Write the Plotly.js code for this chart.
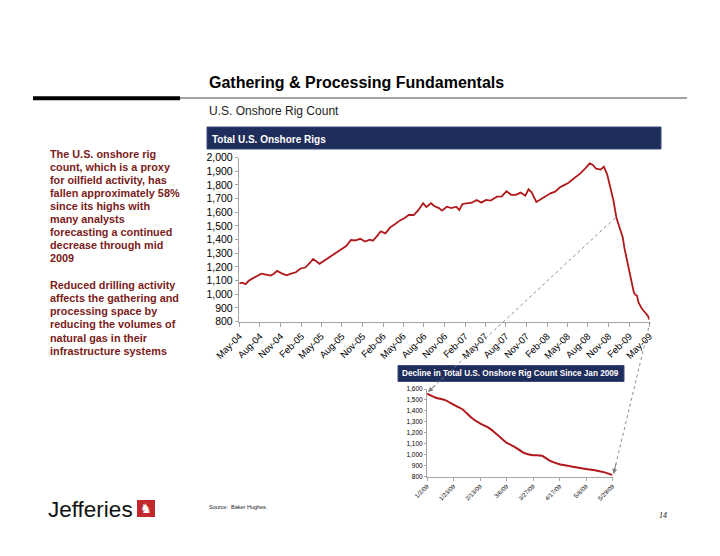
<!DOCTYPE html>
<html>
<head>
<meta charset="utf-8">
<script src="https://cdn.plot.ly/plotly-3.0.1.min.js"></script>
<style>html,body{margin:0;padding:0;background:#fff}#chart{width:720px;height:556px}</style>
</head>
<body>
<div id="chart"></div>
<script>
// ---- Data ----
const mainDates = [
"2004-05-28","2004-06-11","2004-06-25","2004-07-09","2004-07-23","2004-08-13","2004-09-03","2004-09-24",
"2004-10-15","2004-10-29","2004-11-12","2004-12-03","2004-12-24","2005-01-14","2005-02-04","2005-02-25",
"2005-03-18","2005-04-08","2005-04-22","2005-05-20","2005-06-10","2005-07-08","2005-07-29","2005-08-12",
"2005-09-02","2005-09-16","2005-10-07","2005-10-28","2005-11-18","2005-12-09","2005-12-30","2006-01-13",
"2006-02-03","2006-02-17","2006-03-10","2006-03-31","2006-04-21","2006-05-12","2006-06-02","2006-06-23",
"2006-07-14","2006-08-04","2006-08-25","2006-09-08","2006-09-29","2006-10-13","2006-11-03","2006-11-17",
"2006-12-08","2006-12-29","2007-01-19","2007-02-02","2007-02-16","2007-03-09","2007-03-30","2007-04-20",
"2007-05-11","2007-06-01","2007-06-22","2007-07-06","2007-07-20","2007-08-10","2007-08-31","2007-09-21",
"2007-10-12","2007-11-02","2007-11-23","2007-12-07","2007-12-21","2008-01-11","2008-02-01","2008-02-22",
"2008-03-14","2008-04-04","2008-04-25","2008-05-16","2008-05-30","2008-06-13","2008-07-04","2008-07-25",
"2008-08-15","2008-08-29","2008-09-05","2008-09-19","2008-10-03","2008-10-24","2008-11-07","2008-11-21",
"2008-12-05","2008-12-19"];
const mainRigs = [
1079,1084,1073,1098,1112,1128,1150,1143,
1136,1150,1170,1152,1138,1150,1160,1188,
1195,1230,1258,1222,1245,1278,1300,1315,
1335,1352,1396,1394,1405,1385,1398,1391,
1430,1460,1445,1489,1512,1538,1556,1581,
1578,1616,1665,1638,1665,1645,1630,1611,
1640,1630,1640,1616,1660,1665,1669,1689,
1670,1690,1685,1700,1713,1715,1753,1727,
1727,1743,1720,1767,1745,1674,1695,1713,
1738,1750,1782,1800,1811,1830,1855,1884,
1918,1940,1957,1945,1918,1912,1933,1879,
1786,1689];

const insetDates = ["2009-01-02","2009-01-09","2009-01-16","2009-01-23","2009-01-30","2009-02-06","2009-02-13",
"2009-02-20","2009-02-27","2009-03-06","2009-03-13","2009-03-20","2009-03-27","2009-04-03","2009-04-10",
"2009-04-17","2009-04-24","2009-05-01","2009-05-08","2009-05-15","2009-05-22","2009-05-29"];
const insetRigs = [1557,1520,1500,1457,1415,1340,1285,1245,1180,1110,1067,1015,995,990,940,912,897,882,868,858,840,813];

const mainTickDates = ["2004-05-28","2004-08-28","2004-11-28","2005-02-28","2005-05-28","2005-08-28","2005-11-28",
"2006-02-28","2006-05-28","2006-08-28","2006-11-28","2007-02-28","2007-05-28","2007-08-28","2007-11-28",
"2008-02-28","2008-05-28","2008-08-28","2008-11-28","2009-02-28","2009-05-28"];
const mainTickLabels = ["May-04","Aug-04","Nov-04","Feb-05","May-05","Aug-05","Nov-05","Feb-06","May-06","Aug-06",
"Nov-06","Feb-07","May-07","Aug-07","Nov-07","Feb-08","May-08","Aug-08","Nov-08","Feb-09","May-09"];

const leftPara1 = ["The U.S. onshore rig","count, which is a proxy","for oilfield activity, has","fallen approximately 58%",
"since its highs with","many analysts","forecasting a continued","decrease through mid","2009"];
const leftPara2 = ["Reduced drilling activity","affects the gathering and","processing space by",
"reducing the volumes of","natural gas in their","infrastructure systems"];

// ---- Layout helpers ----
const W = 720, H = 556;
const px = x => x / W;
const py = y => 1 - y / H;
const FONT = "Liberation Sans, Arial, Helvetica, sans-serif";
const LINE = "#B0181B";
const AX = "#A6A6A6";

const traces = [
  {x: mainDates.concat(insetDates), y: mainRigs.concat(insetRigs), type: "scatter", mode: "lines",
   line: {color: LINE, width: 1.8}, xaxis: "x", yaxis: "y", hoverinfo: "skip"},
  {x: insetDates, y: insetRigs, type: "scatter", mode: "lines", line: {color: LINE, width: 2, shape: "spline", smoothing: 0.6},
   xaxis: "x2", yaxis: "y2", hoverinfo: "skip"}
];

const ann = [];
function txt(x, y, text, size, opts) {
  ann.push(Object.assign({xref: "paper", yref: "paper", x: px(x), y: py(y), text: text, showarrow: false,
    xanchor: "left", yanchor: "middle", font: {family: FONT, size: size, color: "#000"}}, opts || {}));
}
txt(207, 83, "<b>Gathering &amp; Processing Fundamentals</b>", 16);
txt(207, 111, "U.S. Onshore Rig Count", 12, {font: {family: FONT, size: 12, color: "#222"}});
txt(210, 139, "<b>Total U.S. Onshore Rigs</b>", 10, {font: {family: FONT, size: 10, color: "#fff"}});
txt(400, 373.5, "<b>Decline in Total U.S. Onshore Rig Count Since Jan 2009</b>", 8.2, {font: {family: FONT, size: 8.2, color: "#fff"}});
leftPara1.forEach((s, i) => txt(47.5, 154 + i * 13.05, "<b>" + s + "</b>", 10.85, {font: {family: FONT, size: 10.85, color: "#7A1C20"}}));
leftPara2.forEach((s, i) => txt(47.5, 285 + i * 13.15, "<b>" + s + "</b>", 10.85, {font: {family: FONT, size: 10.85, color: "#7A1C20"}}));
txt(46, 509, "Jefferies", 22.5, {font: {family: FONT, size: 22.5, color: "#111"}});
txt(146, 508.5, "♞", 13, {xanchor: "center", font: {family: "DejaVu Sans", size: 13, color: "#fff"}});
txt(207, 507, "Source:  Baker Hughes.", 5.5, {font: {family: FONT, size: 5.5, color: "#222"}});
txt(657, 515, "<i>14</i>", 8, {font: {family: "Liberation Serif, Times New Roman, serif", size: 8, color: "#222"}});

// arrowheads of the callouts
ann.push({xref: "paper", yref: "paper", x: px(428), y: py(392), ax: 9, ay: -8, text: "", showarrow: true,
  arrowhead: 2, arrowsize: 1, arrowwidth: 1, arrowcolor: "#7F7F7F"});
ann.push({xref: "paper", yref: "paper", x: px(613.5), y: py(474), ax: 3, ay: -12, text: "", showarrow: true,
  arrowhead: 2, arrowsize: 1, arrowwidth: 1, arrowcolor: "#7F7F7F"});

const shapes = [
  {type: "line", xref: "paper", yref: "paper", x0: px(33), x1: px(180), y0: py(98.3), y1: py(98.3), line: {color: "#000", width: 4}},
  {type: "line", xref: "paper", yref: "paper", x0: px(180), x1: px(687), y0: py(98), y1: py(98), line: {color: "#444", width: 1}},
  {type: "rect", xref: "paper", yref: "paper", x0: px(207), x1: px(661), y0: py(149), y1: py(127), fillcolor: "#1F2D5C", line: {color: "#3A4A7A", width: 1}},
  {type: "rect", xref: "paper", yref: "paper", x0: px(398), x1: px(624), y0: py(381.5), y1: py(365.5), fillcolor: "#1F2D5C", line: {color: "#3A4A7A", width: 1}},
  {type: "line", xref: "paper", yref: "paper", x0: px(615), y0: py(218), x1: px(430), y1: py(390), line: {color: "#8C8C8C", width: 1, dash: "dot"}},
  {type: "line", xref: "paper", yref: "paper", x0: px(650), y0: py(322), x1: px(614), y1: py(472), line: {color: "#8C8C8C", width: 1, dash: "dot"}},
  {type: "rect", xref: "paper", yref: "paper", x0: px(137), x1: px(155), y0: py(517), y1: py(500), fillcolor: "#C0282D", line: {width: 0}}
];

const axBase = {showgrid: false, zeroline: false, showline: true, linecolor: AX, linewidth: 1.5,
  ticks: "outside", tickcolor: AX, tickwidth: 1, fixedrange: true};

const layout = {
  width: W, height: H, margin: {l: 0, r: 0, t: 0, b: 0},
  paper_bgcolor: "#fff", plot_bgcolor: "rgba(0,0,0,0)", showlegend: false,
  font: {family: FONT, color: "#000"},
  xaxis: Object.assign({}, axBase, {domain: [px(239.3), px(649.5)], anchor: "y", type: "date",
    range: ["2004-05-28", "2009-05-29"], tickmode: "array", tickvals: mainTickDates, ticktext: mainTickLabels,
    tickangle: -45, ticklen: 4, tickfont: {size: 9.5, family: FONT, color: "#000"}}),
  yaxis: Object.assign({}, axBase, {domain: [py(321.5), py(157.5)], anchor: "x", range: [800, 2000],
    dtick: 100, tickformat: ",", ticklen: 3, tickfont: {size: 10.5, family: FONT, color: "#000"}}),
  xaxis2: Object.assign({}, axBase, {domain: [px(427), px(612.5)], anchor: "y2", type: "date",
    range: ["2009-01-02", "2009-05-29"], tick0: "2009-01-02", dtick: 21 * 86400000, tickformat: "%-m/%-d/%y",
    tickangle: -45, ticklen: 3, linewidth: 1, tickfont: {size: 6, family: FONT, color: "#000"}}),
  yaxis2: Object.assign({}, axBase, {domain: [py(476.5), py(389)], anchor: "x2", range: [800, 1600],
    dtick: 100, tickformat: ",", ticklen: 2, linewidth: 1, tickfont: {size: 6.5, family: FONT, color: "#000"}}),
  shapes: shapes,
  annotations: ann
};

Plotly.newPlot("chart", traces, layout, {staticPlot: true, displayModeBar: false});
</script>
</body>
</html>
